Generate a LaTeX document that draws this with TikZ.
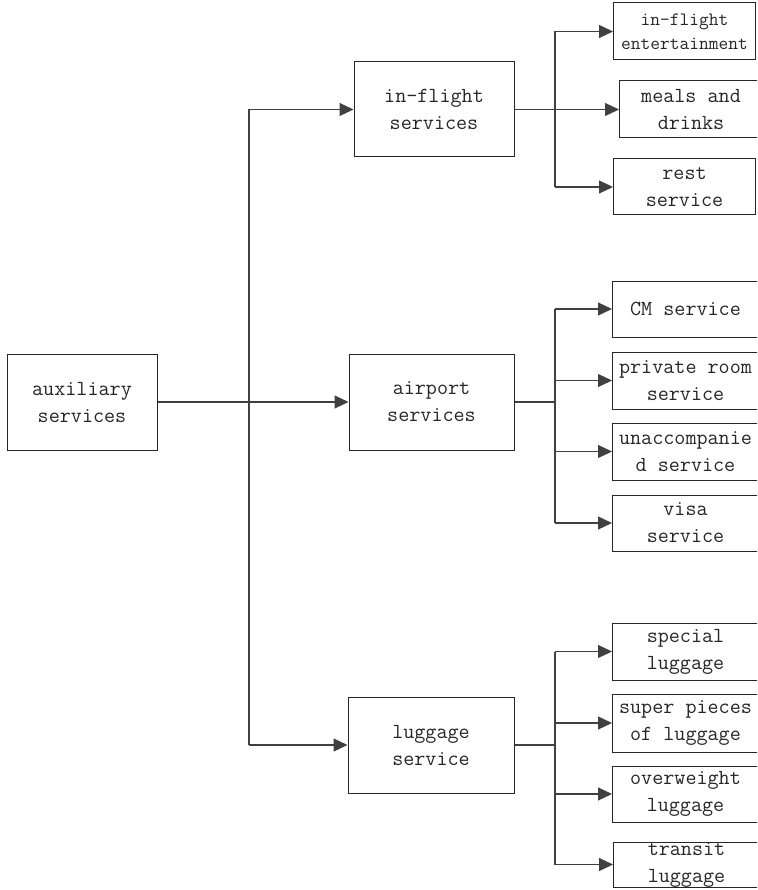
\documentclass[tikz,border=0pt]{standalone}
\usepackage{fontspec}
\usetikzlibrary{arrows.meta}

\tikzset{
  box/.style={draw=black!85, line width=1pt, text=black!85, align=center,
    inner sep=0pt, font=\ttfamily\fontsize{21.5}{27}\selectfont},
  mainbox/.style={box, minimum height=96pt},
  leaf/.style={box, anchor=west, minimum height=57pt},
  conn/.style={draw=black!75, line width=1.1pt},
  arr/.style={conn, -{Triangle[length=14pt,width=13pt]}}
}

\begin{document}
\begin{tikzpicture}[x=1pt,y=-1pt]
\useasboundingbox (0,0) rectangle (757,890);
\clip (0,0) rectangle (757,890);

% first and second level
\node[mainbox, minimum width=150pt] (aux) at (82,402) {auxiliary\\services};
\node[mainbox, minimum width=160pt, minimum height=95pt] (inflight) at (434,109.5) {in-flight\\services};
\node[mainbox, minimum width=165pt] (airport) at (431.5,402) {airport\\services};
\node[mainbox, minimum width=166pt] (luggage) at (431,745) {luggage\\service};

% in-flight services
\node[leaf, minimum width=142pt, font=\ttfamily\fontsize{18.9}{24}\selectfont] (ent) at (613,31.5) {in-flight\\entertainment};
\node[leaf, minimum width=143pt] (meals) at (619,109.5) {meals and\\drinks};
\node[leaf, minimum width=142pt, minimum height=56pt] (rest) at (613,187) {rest\\service};

% airport services
\node[leaf, minimum width=146pt, minimum height=56pt] (cm) at (612,309) {CM service};
\node[leaf, minimum width=146pt] (room) at (612,380.5) {private room\\service};
\node[leaf, minimum width=146pt] (unacc) at (612,451.5) {unaccompanie\\d service};
\node[leaf, minimum width=146pt, minimum height=56pt] (visa) at (612,523) {visa\\service};

% luggage service
\node[leaf, minimum width=146pt] (special) at (612,651.5) {special\\luggage};
\node[leaf, minimum width=146pt, minimum height=58pt] (pieces) at (612,723) {super pieces\\of luggage};
\node[leaf, minimum width=146pt, minimum height=56pt] (overweight) at (612,794) {overweight\\luggage};
\node[leaf, minimum width=146pt, minimum height=45pt] (transit) at (613,864.5) {};
\node[box, draw=none] (transittext) at (transit.center) {transit\\luggage};

% trunk
\coordinate (xt) at (249,0);
\coordinate (xb) at (555,0);
\draw[conn] (inflight.west -| xt) -- (luggage.west -| xt);
\draw[arr] (aux) -- (airport);
\draw[arr] (inflight.west -| xt) -- (inflight);
\draw[arr] (luggage.west -| xt) -- (luggage);

% branches
\draw[conn] (inflight.east) -- (inflight.east -| xb);
\draw[conn] (ent.west -| xb) -- (rest.west -| xb);
\foreach \n in {ent,meals,rest}
  \draw[arr] (\n.west -| xb) -- (\n);

\draw[conn] (airport.east) -- (airport.east -| xb);
\draw[conn] (cm.west -| xb) -- (visa.west -| xb);
\foreach \n in {cm,room,unacc,visa}
  \draw[arr] (\n.west -| xb) -- (\n);

\draw[conn] (luggage.east) -- (luggage.east -| xb);
\draw[conn] (special.west -| xb) -- (transit.west -| xb);
\foreach \n in {special,pieces,overweight,transit}
  \draw[arr] (\n.west -| xb) -- (\n);
\end{tikzpicture}
\end{document}
